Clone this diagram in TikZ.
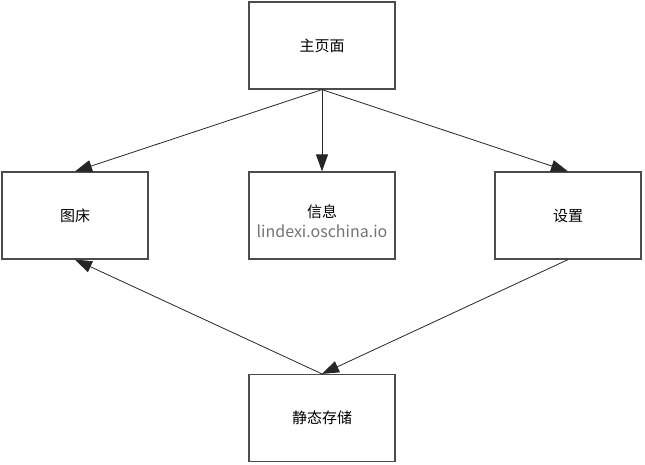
\documentclass[tikz,border=0pt]{standalone}
\usepackage{fontspec}
\setmainfont{Noto Sans CJK SC}
\usetikzlibrary{arrows.meta}
\begin{document}
\begin{tikzpicture}[x=1pt,y=-1pt,
    box/.style={draw=black!70, line width=1.2pt, minimum width=146pt, minimum height=87pt,
        inner sep=0pt, font=\fontsize{15}{17}\selectfont},
    link/.style={-{Triangle[length=17pt,width=12pt]}, line width=0.8pt, draw=black!85}]

    \useasboundingbox (0,0) rectangle (645,464);

    \node[box] (main)     at (322, 45.5) {主页面};
    \node[box] (tuchuang) at (75, 215.5) {图床};
    \node[box] (xinxi)    at (322, 215.5) {};
    \node[box] (shezhi)   at (568, 215.5) {设置};
    \node[box] (storage)  at (322, 418) {静态存储};

    \node[font=\fontsize{15}{17}\selectfont] (xinxitext) at (322, 212) {信息};
    \node[font=\fontsize{16}{18}\selectfont, text=black!55] (mark) at (322, 231) {lindexi.oschina.io};

    \draw[link] (main.south) -- (tuchuang.north);
    \draw[link] (main.south) -- (xinxi.north);
    \draw[link] (main.south) -- (shezhi.north);
    \draw[link] (shezhi.south) -- (storage.north);
    \draw[link] (storage.north) -- (tuchuang.south);

\end{tikzpicture}
\end{document}
